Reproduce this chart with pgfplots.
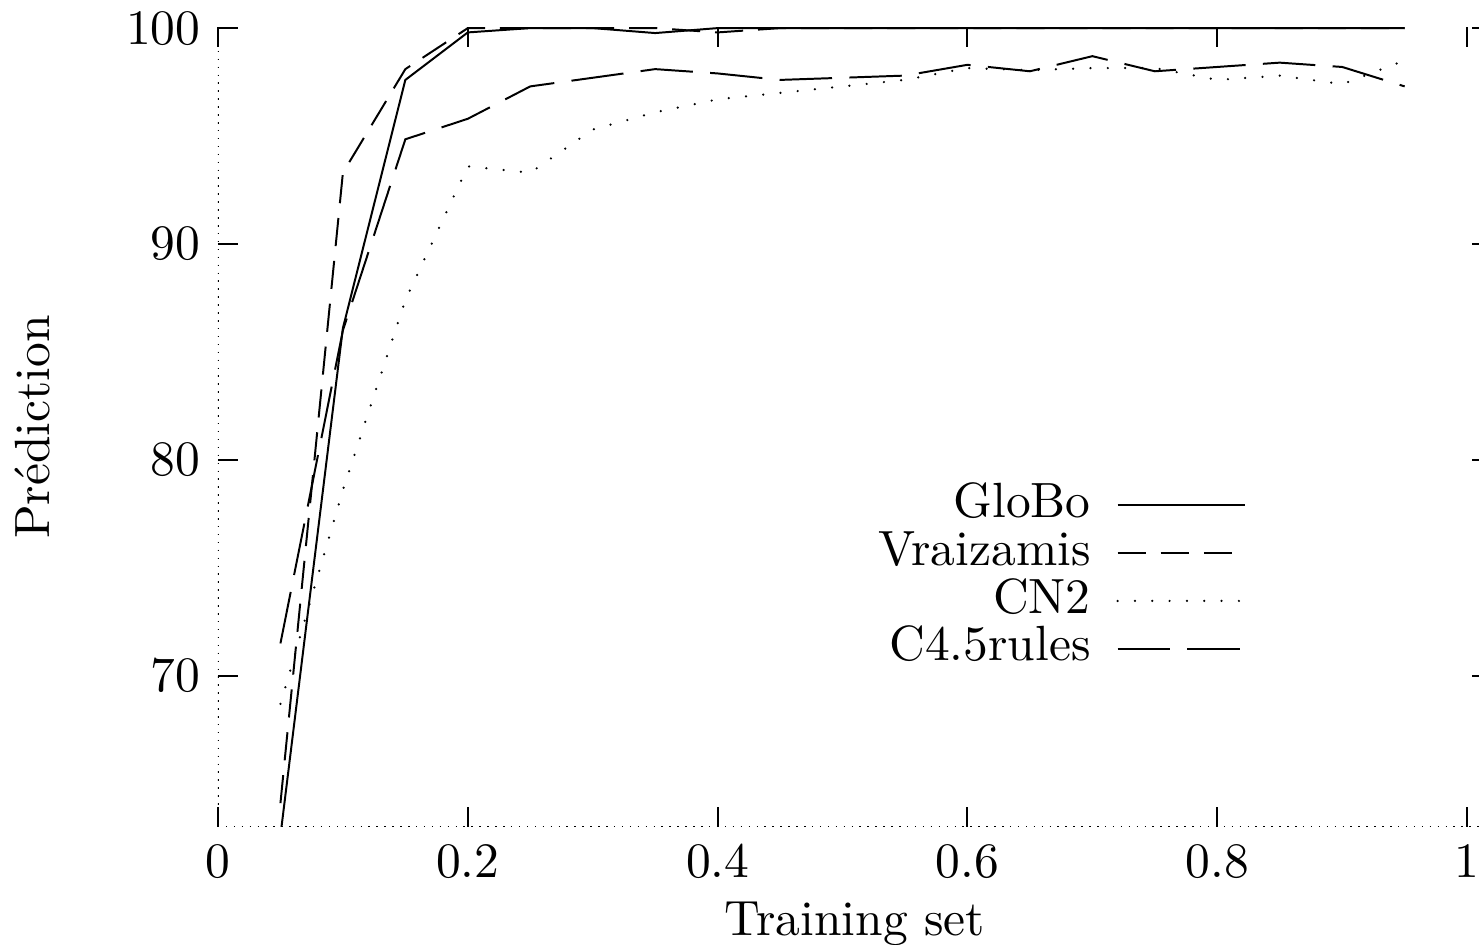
\documentclass[border=0pt]{standalone}
\usepackage{pgfplots}
\pgfplotsset{compat=1.18}
\begin{document}
\begin{tikzpicture}
\begin{axis}[
  scale only axis, width=257.4pt, height=161.6pt,
  xmin=0, xmax=1.02, ymin=63, ymax=100.05,
  xtick={0,0.2,0.4,0.6,0.8,1}, ytick={70,80,90,100},
  xticklabels={0,0.2,0.4,0.6,0.8,1},
  tick align=inside, major tick length=4pt,
  axis line style={draw=none},
  tick style={black, line width=0.4pt},
  xlabel={Training set}, ylabel={Prédiction},
  xlabel shift=-2.2pt, ylabel shift=8.6pt,
  no marks,
  legend plot pos=right,
  legend cell align=right,
  legend style={at={(0.8077,0.4331)}, anchor=north east, draw=none, fill=none,
    inner sep=0pt, nodes={inner ysep=0.3pt, inner xsep=2.6pt, text height=7pt, text depth=2.05pt}},
  legend image code/.code={\path (0pt,0pt); \draw[#1] (2.6pt,0pt) -- (28.3pt,0pt);},
]
% cadre pointillé (gauche et bas)
\draw[dash pattern=on 0.3pt off 1.3pt, line width=0.4pt]
  (rel axis cs:0,1) -- (rel axis cs:0,0) -- (rel axis cs:1,0);

\addplot[black, line width=0.4pt] coordinates {
(0.05,62.6) (0.10,86.1) (0.15,97.6) (0.20,99.8) (0.25,100) (0.30,100)
(0.35,99.77) (0.40,100) (0.45,100) (0.50,100) (0.55,100) (0.60,100)
(0.65,100) (0.70,100) (0.75,100) (0.80,100) (0.85,100) (0.90,100) (0.95,100)};
\addlegendentry{GloBo}

\addplot[black, line width=0.4pt, dash pattern=on 5.7pt off 3pt] coordinates {
(0.05,64.1) (0.10,93.3) (0.15,98.1) (0.20,100) (0.25,100) (0.30,100)
(0.35,100) (0.40,99.8) (0.45,100) (0.50,100) (0.55,100) (0.60,100)
(0.65,100) (0.70,100) (0.75,100) (0.80,100) (0.85,100) (0.90,100) (0.95,100)};
\addlegendentry{Vraizamis}

\addplot[black, line width=0.5pt, line cap=round, dash pattern=on 0pt off 3.5pt] coordinates {
(0.05,68.7) (0.10,78.6) (0.15,87.4) (0.20,93.6) (0.25,93.3) (0.30,95.3)
(0.35,96.1) (0.40,96.7) (0.45,97.0) (0.50,97.3) (0.55,97.6) (0.60,98.15)
(0.65,98.05) (0.70,98.15) (0.75,98.15) (0.80,97.6) (0.85,97.8) (0.90,97.4) (0.95,98.5)};
\addlegendentry{CN2}

\addplot[black, line width=0.4pt, dash pattern=on 10.6pt off 3.5pt] coordinates {
(0.05,71.5) (0.10,86.0) (0.15,94.85) (0.20,95.8) (0.25,97.3) (0.30,97.7)
(0.35,98.1) (0.40,97.9) (0.45,97.6) (0.50,97.7) (0.55,97.8) (0.60,98.3)
(0.65,98.0) (0.70,98.7) (0.75,98.0) (0.80,98.2) (0.85,98.4) (0.90,98.2) (0.95,97.3)};
\addlegendentry{C4.5rules}
\end{axis}
\pgfresetboundingbox
\path[use as bounding box] (current axis.south west) ++(-44.04pt,-23.84pt) rectangle ++(298.8pt,190.9pt);
\end{tikzpicture}
\end{document}
